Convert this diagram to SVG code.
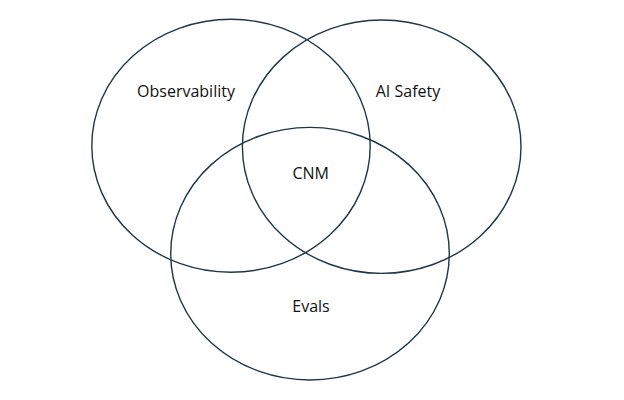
<svg xmlns="http://www.w3.org/2000/svg" width="624" height="400" viewBox="0 0 624 400">
<style>
.c{fill:none;stroke:#1e3646;stroke-width:1.4}
.t{font-family:"Open Sans","Liberation Sans",sans-serif;font-size:16px;fill:#111;text-anchor:middle}
</style>
<rect width="624" height="400" fill="#fff"/>
<g id="observability"><ellipse class="c" cx="231" cy="145.8" rx="139.2" ry="126.5"/><text class="t" x="186" y="97">Observability</text></g>
<g id="ai-safety"><ellipse class="c" cx="381.7" cy="146.7" rx="139.3" ry="126.7"/><text class="t" x="408" y="97">AI Safety</text></g>
<g id="evals"><ellipse class="c" cx="310" cy="253.7" rx="139.3" ry="126.3"/><text class="t" x="311" y="312">Evals</text></g>
<g id="cnm"><text class="t" x="310.7" y="179">CNM</text></g>
<g id="connectors"/>
</svg>
